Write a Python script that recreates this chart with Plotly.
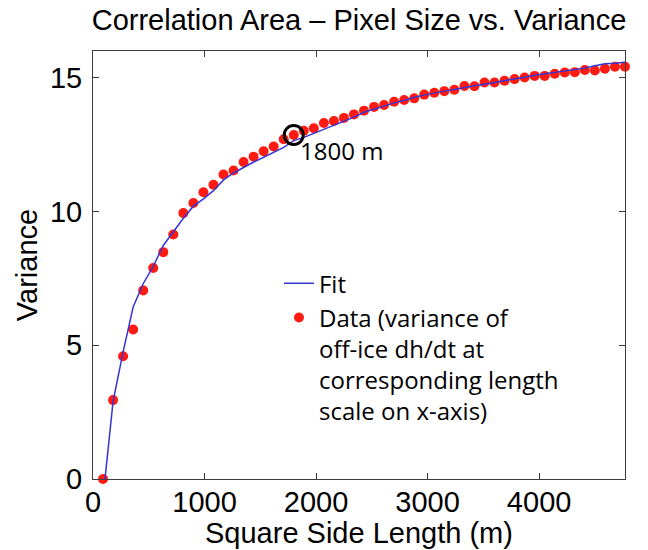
import plotly.graph_objects as go

# Square side length (m) of each correlation area
side_length = [90, 180, 270, 360, 450, 540, 630, 720, 810, 900,
               990, 1080, 1170, 1260, 1350, 1440, 1530, 1620, 1710, 1800,
               1890, 1980, 2070, 2160, 2250, 2340, 2430, 2520, 2610, 2700,
               2790, 2880, 2970, 3060, 3150, 3240, 3330, 3420, 3510, 3600,
               3690, 3780, 3870, 3960, 4050, 4140, 4230, 4320, 4410, 4500,
               4590, 4680, 4770]

# Variance of off-ice dh/dt at each length scale
variance = [0.00, 2.95, 4.59, 5.59, 7.05, 7.89, 8.48, 9.14, 9.94, 10.32,
            10.72, 11.00, 11.38, 11.53, 11.85, 12.05, 12.25, 12.43, 12.70, 12.86,
            13.02, 13.11, 13.31, 13.38, 13.50, 13.63, 13.77, 13.91, 13.98, 14.10,
            14.17, 14.23, 14.37, 14.44, 14.50, 14.55, 14.69, 14.68, 14.82, 14.82,
            14.89, 14.95, 15.01, 15.07, 15.07, 15.15, 15.20, 15.21, 15.29, 15.27,
            15.34, 15.41, 15.41]

# Fitted variance at the same length scales
fit_variance = [-0.70, 2.90, 4.75, 6.43, 7.30, 7.95, 8.73, 9.25, 9.75, 10.20,
                10.47, 10.78, 11.18, 11.44, 11.65, 11.85, 12.03, 12.21, 12.40, 12.65,
                12.77, 12.92, 13.07, 13.22, 13.36, 13.53, 13.71, 13.83, 13.94, 14.06,
                14.15, 14.27, 14.35, 14.43, 14.50, 14.56, 14.64, 14.70, 14.76, 14.82,
                14.89, 14.95, 15.02, 15.09, 15.14, 15.19, 15.25, 15.31, 15.36, 15.45,
                15.52, 15.54, 15.58]

# Chosen correlation area
chosen_length = 1800
chosen_label = "1800 m"

x_ticks = [0, 1000, 2000, 3000, 4000]
y_ticks = [0, 5, 10, 15]

chosen_value = variance[side_length.index(chosen_length)]

AXIS_FONT = "Liberation Sans, Arial, Helvetica, sans-serif"
NOTE_FONT = "Open Sans, Noto Sans, sans-serif"

fig = go.Figure()

fig.add_trace(go.Scatter(
    x=side_length, y=variance, mode="markers",
    name="Data (variance of<br>off-ice dh/dt at<br>corresponding length<br>scale on x-axis)",
    marker=dict(color="#ff1a12", size=10, line=dict(width=0)),
    cliponaxis=False, legendrank=2,
))

fig.add_trace(go.Scatter(
    x=side_length, y=fit_variance, mode="lines", name="Fit",
    line=dict(color="#3535d5", width=1.5),
    legendrank=1,
))

fig.add_trace(go.Scatter(
    x=[chosen_length], y=[chosen_value], mode="markers",
    marker=dict(symbol="circle-open", size=19, color="black",
                line=dict(width=3, color="black")),
    showlegend=False, cliponaxis=False,
))

fig.add_annotation(
    x=chosen_length, y=chosen_value, text=chosen_label,
    showarrow=False, xanchor="left", yanchor="middle",
    xshift=4, yshift=-15,
    font=dict(family=NOTE_FONT, size=24, color="black"),
)

# x-axis title, placed just under the tick labels
fig.add_annotation(
    x=0.5, y=0, xref="paper", yref="paper", yshift=-54,
    text="Square Side Length (m)", showarrow=False,
    xanchor="center", yanchor="middle",
    font=dict(family=AXIS_FONT, size=29, color="black"),
)

axis_common = dict(
    showline=True, linecolor="#3c3c3c", linewidth=1, mirror="ticks",
    ticks="inside", ticklen=6, tickwidth=1, tickcolor="#3c3c3c",
    showgrid=False, zeroline=False,
    tickfont=dict(family=AXIS_FONT, size=29, color="black"),
)

fig.update_xaxes(range=[0, 4770], tickvals=x_ticks, ticklabelstandoff=-3,
                 **axis_common)
fig.update_yaxes(
    range=[0, 16], tickvals=y_ticks, ticklabelstandoff=4,
    title=dict(text="Variance", standoff=3,
               font=dict(family=AXIS_FONT, size=29, color="black")),
    **axis_common,
)

fig.update_layout(
    width=648, height=550,
    margin=dict(l=93, r=23, t=51, b=71, autoexpand=False),
    paper_bgcolor="white", plot_bgcolor="white",
    title=dict(text="Correlation Area – Pixel Size vs. Variance",
               x=0.5, xref="paper", xanchor="center",
               y=1 - 20 / 550, yref="container", yanchor="middle",
               font=dict(family=AXIS_FONT, size=29, color="black")),
    legend=dict(x=0.3496, y=0.509, xanchor="left", yanchor="top",
                valign="top", bgcolor="rgba(0,0,0,0)", borderwidth=0,
                font=dict(family=NOTE_FONT, size=24, color="black"),
                itemwidth=30, tracegroupgap=0),
    showlegend=True,
)

fig.write_html("out.html")
